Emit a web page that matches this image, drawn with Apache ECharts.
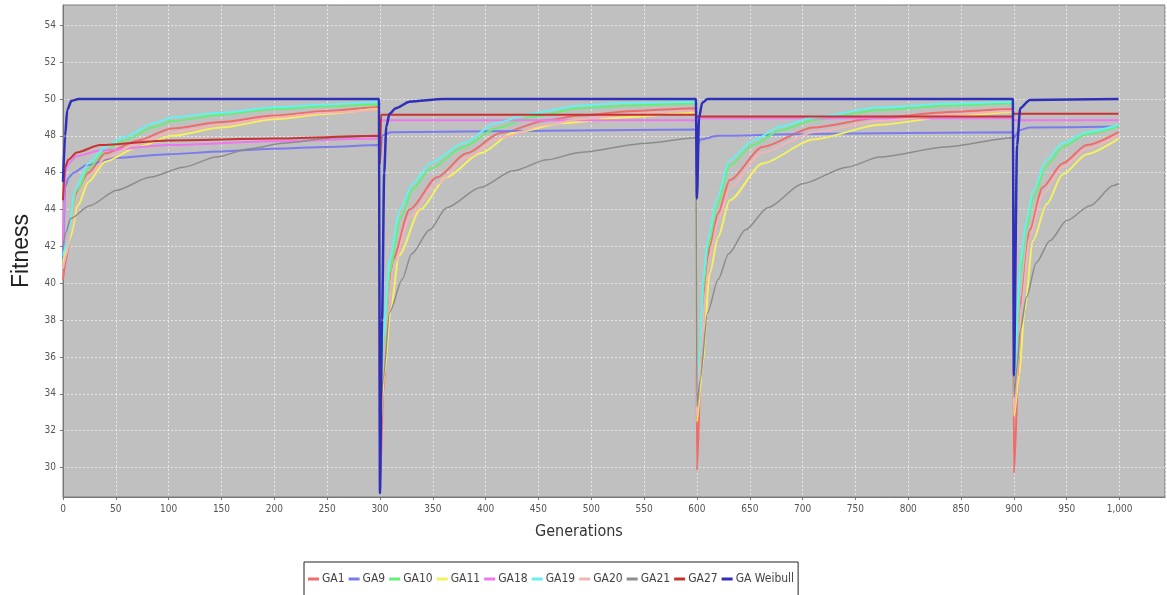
<!DOCTYPE html>
<html>
<head>
  <meta charset="UTF-8">
  <style>
    html, body { margin: 0; padding: 0; background: #fff; }
  </style>
  <script src="https://cdn.jsdelivr.net/npm/echarts@6/dist/echarts.min.js"></script>
</head>
<body>
  <div id="chart" style="width: 1167px; height: 595px;"></div>
  <script>
    // fitness per generation as [generation, fitness]
    const ga1 = [[0,40.2],[3,41.3],[7,42.9],[14,45.05],[24,46.0],[40,47.05],[71,47.75],[103,48.4],[150,48.75],[200,49.1],[250,49.35],[299,49.55],
      [300,29.0],[303,34],[308,38.5],[312,41.25],[328,44.0],[354,45.75],[382,47.05],[414,48.15],[458,48.85],[489,49.1],[540,49.35],[599,49.5],
      [600,29.85],[604,36],[608,40.2],[612,42.0],[620,43.8],[631,45.6],[662,47.4],[710,48.45],[773,49.0],[840,49.3],[899,49.45],
      [900,29.7],[904,34.75],[907,39.25],[915,42.9],[927,45.2],[946,46.5],[969,47.5],[999,48.2]]
    const ga9 = [[0,41.0],[2,45.2],[5,45.7],[10,46.0],[22,46.4],[50,46.8],[100,47.0],[150,47.15],[200,47.3],[250,47.4],[299,47.5],
      [300,46.5],[302,48.0],[310,48.2],[599,48.35],
      [600,47.4],[603,47.8],[620,48.0],[700,48.1],[899,48.2],
      [900,47.9],[905,48.3],[915,48.45],[999,48.5]]
    const ga10 = [[0,41.2],[5,42.0],[11,44.6],[24,46.2],[40,47.2],[56,47.7],[87,48.5],[103,48.8],[150,49.15],[200,49.45],[250,49.6],[299,49.7],
      [300,33.5],[303,36.5],[309,40.6],[319,43.5],[331,45.1],[347,46.2],[379,47.4],[410,48.4],[442,49.0],[489,49.5],[540,49.65],[599,49.75],
      [600,33.2],[603,36],[606,39.7],[610,41.9],[619,44.2],[631,46.4],[653,47.5],[679,48.3],[710,48.85],[773,49.4],[840,49.65],[899,49.75],
      [900,33.5],[903,37.5],[906,40.6],[912,43.0],[918,44.6],[931,46.4],[946,47.4],[969,48.1],[999,48.5]]
    const ga11 = [[0,41],[3,41.8],[7,42.5],[14,44.2],[24,45.5],[40,46.6],[71,47.4],[103,48.0],[150,48.45],[200,48.9],[250,49.2],[299,49.45],
      [300,32],[304,35],[310,38.5],[318,41.5],[338,44.0],[363,45.75],[395,47.05],[426,48.15],[473,48.7],[530,49.0],[599,49.25],
      [600,32.5],[605,35.5],[612,40.5],[620,42.5],[631,44.5],[662,46.5],[710,47.8],[773,48.6],[840,49.05],[899,49.3],
      [900,32.8],[905,35],[910,38.5],[918,42.3],[931,44.3],[946,45.9],[969,47.0],[999,47.85]]
    const ga18 = [[0,42.0],[2,46.0],[5,46.5],[13,46.9],[35,47.2],[100,47.5],[200,47.7],[299,47.85],
      [300,48.85],[599,48.85],[600,48.95],[899,48.95],[900,48.85],[999,48.85]]
    const ga19 = [[0,41.5],[5,42.3],[11,45.05],[24,46.5],[40,47.4],[56,47.9],[87,48.7],[103,49.0],[150,49.25],[200,49.55],[250,49.7],[299,49.85],
      [300,34],[303,37],[309,41.25],[319,44.0],[331,45.4],[347,46.5],[379,47.6],[410,48.7],[442,49.2],[489,49.65],[540,49.8],[599,49.85],
      [600,33.5],[603,36.5],[606,40.2],[610,42.3],[619,44.6],[631,46.7],[653,47.75],[679,48.5],[710,49.0],[773,49.55],[840,49.75],[899,49.85],
      [900,33.8],[903,38],[906,41.1],[912,43.4],[918,45.0],[931,46.7],[946,47.6],[969,48.2],[999,48.6]]
    const ga20 = [[0,40.8],[3,41.5],[7,42.8],[14,44.8],[24,45.8],[40,46.8],[71,47.6],[103,48.2],[150,48.6],[200,49.0],[250,49.25],[299,49.4],
      [300,32.5],[303,35],[308,38.5],[312,40.8],[328,43.6],[354,45.4],[382,46.8],[414,47.9],[458,48.6],[489,48.9],[540,49.2],[599,49.35],
      [600,32.8],[604,36],[608,39.6],[612,41.5],[620,43.4],[631,45.2],[662,47.1],[710,48.2],[773,48.8],[840,49.15],[899,49.35],
      [900,33],[904,35.5],[907,38.8],[915,42.5],[927,44.8],[946,46.3],[969,47.3],[999,48.05]]
    const ga21 = [[0,42.0],[3,42.8],[7,43.5],[25,44.2],[51,45.05],[82,45.75],[114,46.3],[145,46.85],[177,47.3],[208,47.6],[256,47.9],[299,48.0],
      [300,33.5],[303,34.75],[309,38.4],[321,40.2],[330,41.6],[347,42.9],[363,44.1],[395,45.2],[426,46.1],[458,46.7],[489,47.1],[552,47.6],[599,47.9],
      [600,33.3],[603,34.75],[610,38.4],[620,40.2],[630,41.6],[646,42.9],[667,44.1],[700,45.4],[742,46.3],[773,46.85],[836,47.4],[899,47.9],
      [900,33.8],[903,35.45],[906,37.45],[912,39.25],[921,41.1],[934,42.3],[950,43.4],[972,44.2],[994,45.3],[999,45.4]]
    const ga27 = [[0,44.5],[2,46.3],[5,46.7],[13,47.1],[35,47.5],[100,47.75],[200,47.85],[299,48.0],
      [300,46.5],[301,49.15],[599,49.15],[600,49.05],[899,49.05],[900,49.2],[999,49.2]]
    const gaWeibull = [[0,45.5],[2,48.0],[4,49.4],[8,49.9],[15,50],[299,50],
      [300,28.6],[302,38],[304,46],[306,48.5],[309,49.2],[315,49.5],[328,49.85],[360,50],[599,50],
      [600,44.6],[602,49.0],[605,49.8],[610,50],[899,50],
      [900,35],[903,47.5],[906,49.5],[915,49.95],[999,50]]

    const seriesNames = ['GA1', 'GA9', 'GA10', 'GA11', 'GA18', 'GA19', 'GA20', 'GA21', 'GA27', 'GA Weibull']
    const seriesData = [ga1, ga9, ga10, ga11, ga18, ga19, ga20, ga21, ga27, gaWeibull]
    const colors = ['#f26b6b', '#7b7bee', '#66ee77', '#f4f060', '#ee77ee', '#66f0ee', '#f2b4b4', '#8c8c8c', '#c83232', '#2f2fb8']
    const yTicks = [30, 32, 34, 36, 38, 40, 42, 44, 46, 48, 50, 52, 54]

    const narrow = '"DejaVu Sans Condensed", "Liberation Sans", sans-serif'
    const gridLine = { show: true, lineStyle: { color: 'rgba(255,255,255,0.6)', type: [2, 2], width: 1 } }

    const myChart = echarts.init(document.getElementById('chart'))

    const options = {
      animation: false,
      color: colors,
      grid: {
        left: 63, top: 5, right: 2, bottom: 98,
        show: true,
        backgroundColor: '#c0c0c0',
        borderColor: '#7a7a7a',
        borderWidth: 1
      },
      legend: {
        data: seriesNames,
        top: 562,
        left: 304,
        icon: 'rect',
        itemWidth: 11,
        itemHeight: 3,
        itemGap: 4,
        padding: [11, 4, 20, 4],
        backgroundColor: '#fff',
        borderColor: '#222',
        borderWidth: 1,
        textStyle: { fontFamily: narrow, fontSize: 12, color: '#444', padding: [0, 0, 0, -2] }
      },
      graphic: [{
        type: 'text',
        left: 535,
        top: 524,
        style: { text: 'Generations', font: '16px ' + narrow, fill: '#333' }
      }],
      xAxis: {
        type: 'value',
        min: 0,
        max: 1043,
        interval: 50,
        axisLine: { lineStyle: { color: '#777' } },
        axisTick: { show: true, length: 3, lineStyle: { color: '#777' } },
        axisLabel: {
          showMaxLabel: false,
          margin: 7,
          color: '#555',
          fontFamily: narrow,
          fontSize: 10,
          formatter: v => v >= 1000 ? '1,000' : String(v)
        },
        splitLine: gridLine
      },
      yAxis: {
        type: 'value',
        min: 28.4,
        max: 55.1,
        name: 'Fitness',
        nameLocation: 'middle',
        nameRotate: 90,
        nameGap: 29,
        nameTextStyle: { fontFamily: 'Liberation Sans', fontSize: 23, color: '#222' },
        axisLine: { show: true, lineStyle: { color: '#777' } },
        axisTick: { show: true, length: 3, customValues: yTicks, lineStyle: { color: '#777' } },
        axisLabel: {
          customValues: yTicks,
          margin: 7,
          color: '#555',
          fontFamily: narrow,
          fontSize: 10
        },
        splitLine: gridLine
      },
      series: seriesNames.map((name, i) => ({
        name: name,
        type: 'line',
        data: seriesData[i],
        symbol: 'none',
        smooth: 0.25,
        smoothMonotone: 'x',
        lineStyle: { width: name === 'GA Weibull' ? 2.5 : (name === 'GA21' ? 1.5 : 2) }
      }))
    }

    myChart.setOption(options)
  </script>
</body>
</html>
